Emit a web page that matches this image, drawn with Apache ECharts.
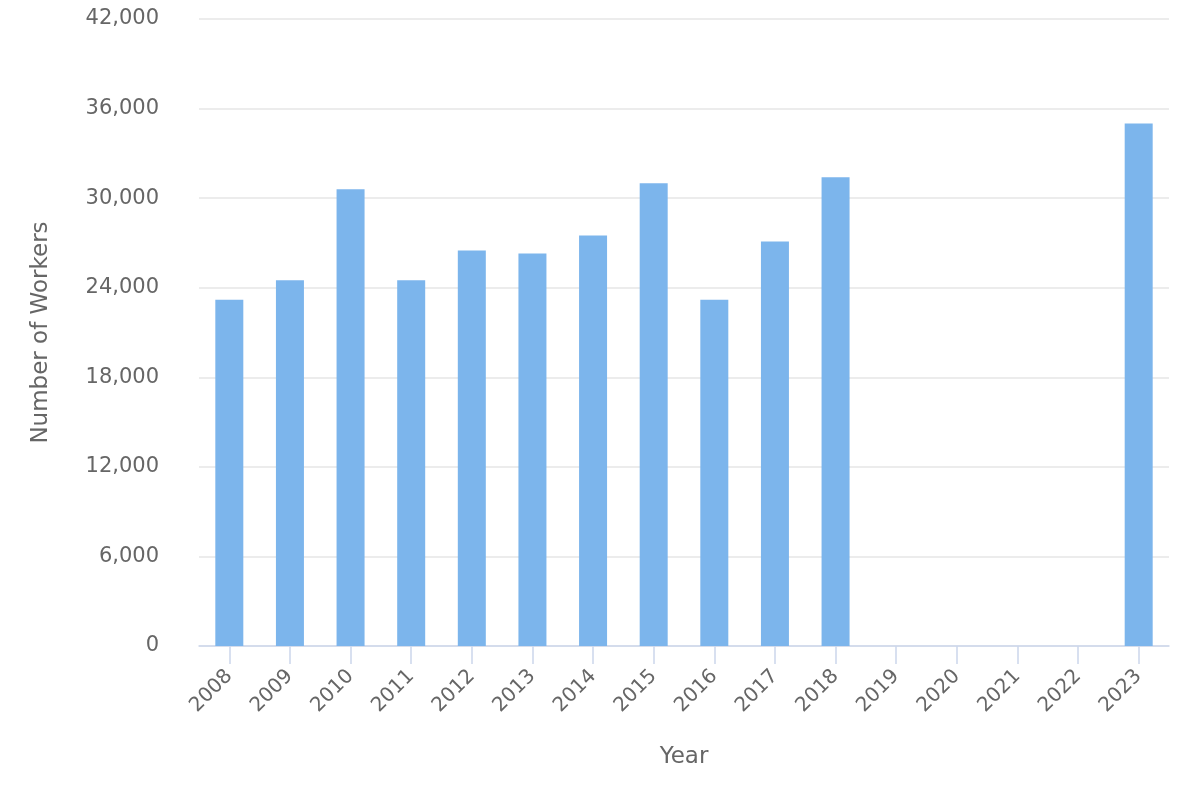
<!DOCTYPE html>
<html><head><meta charset="utf-8">
<script src="https://cdn.jsdelivr.net/npm/echarts@6/dist/echarts.min.js"></script>
<style>html,body{margin:0;padding:0;background:#fff}#c{width:1200px;height:800px}</style>
</head><body><div id="c"></div>
<script>
const years = ['2008','2009','2010','2011','2012','2013','2014','2015','2016','2017','2018','2019','2020','2021','2022','2023'];
const workers = [23200,24500,30600,24500,26500,26300,27500,31000,23200,27100,31400,null,null,null,null,35000];
const yTicks = {min:0,max:42000,interval:6000};
const chart = echarts.init(document.getElementById('c'));
const font = 'DejaVu Sans';
chart.setOption({
  animation:false,
  grid:{left:199,right:31,top:19,bottom:154,containLabel:false},
  xAxis:{type:'category',data:years,
    name:'Year',nameLocation:'middle',nameGap:100,
    nameTextStyle:{color:'#666',fontSize:23,fontFamily:font},
    axisLine:{show:true,lineStyle:{color:'#ccd6eb',width:1.5}},
    axisTick:{show:true,alignWithLabel:true,length:18,lineStyle:{color:'#ccd6eb',width:1.5}},
    axisLabel:{rotate:45,color:'#666',fontSize:20,fontFamily:font,margin:27,interval:0}},
  yAxis:{type:'value',min:yTicks.min,max:yTicks.max,interval:yTicks.interval,
    name:'Number of Workers',nameLocation:'middle',nameGap:146,
    nameTextStyle:{color:'#666',fontSize:23,fontFamily:font},
    axisLabel:{color:'#666',fontSize:21,fontFamily:font,margin:40,
      formatter:v=>v.toLocaleString('en-US')},
    splitLine:{lineStyle:{color:'#e6e6e6',width:1.5}},
    axisLine:{show:false},axisTick:{show:false}},
  series:[{type:'bar',data:workers,barWidth:28,itemStyle:{color:'#7cb5ec'}}]
});
</script></body></html>
